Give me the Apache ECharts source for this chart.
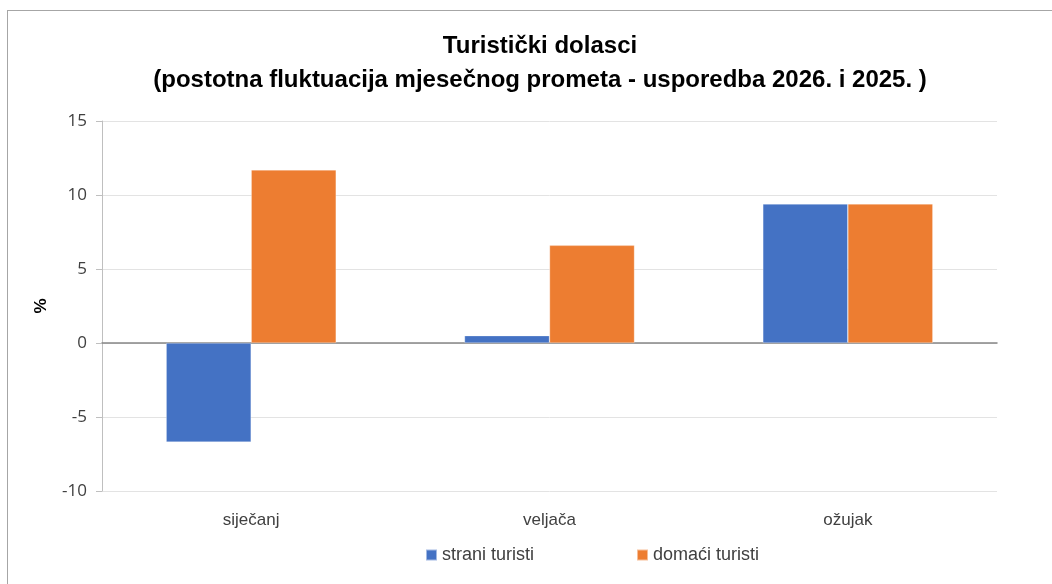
<!DOCTYPE html>
<html>
<head>
<meta charset="utf-8">
<script src="https://cdn.jsdelivr.net/npm/echarts@6/dist/echarts.min.js"></script>
<style>
  html, body { margin: 0; padding: 0; background: #fff; }
  #frame { position: absolute; left: 7px; top: 10px; width: 1100px; height: 640px;
           border-left: 1.5px solid #a6a6a6; border-top: 1.5px solid #a6a6a6; }
  #chart { position: absolute; left: 0; top: 0; width: 1052px; height: 584px; }
</style>
</head>
<body>
<div id="frame"></div>
<div id="chart"></div>
<script>
const titleLines = ['Turistički dolasci', '(postotna fluktuacija mjesečnog prometa - usporedba 2026. i 2025. )'];
const categories = ['siječanj', 'veljača', 'ožujak'];
const seriesNames = ['strani turisti', 'domaći turisti'];
const straniTuristi = [-6.7, 0.5, 9.4];
const domaciTuristi = [11.7, 6.6, 9.4];
const yMin = -10, yMax = 15, yInterval = 5;
const yAxisName = '%';

const calibri = '"Liberation Sans", sans-serif';
const chart = echarts.init(document.getElementById('chart'), null, { renderer: 'canvas' });
chart.setOption({
  animation: false,
  backgroundColor: 'transparent',
  title: {
    text: titleLines.join('\n'),
    left: 535, top: 24, textAlign: 'center',
    textStyle: { fontFamily: calibri, fontWeight: 'bold', fontSize: 24, color: '#000', lineHeight: 34 }
  },
  legend: {
    data: seriesNames,
    left: 420, top: 541,
    itemWidth: 11, itemHeight: 11, itemGap: 102, icon: 'rect',
    textStyle: { fontFamily: calibri, fontSize: 18, color: '#404040' }
  },
  grid: { left: 102, right: 55, top: 121, bottom: 93, containLabel: false },
  xAxis: {
    type: 'category', data: categories,
    axisLine: { onZero: true, lineStyle: { color: '#868686', width: 1.5 } },
    axisTick: { show: false },
    axisLabel: { fontFamily: calibri, fontSize: 17, color: '#404040', margin: 21 },
    splitLine: { show: false }
  },
  yAxis: {
    type: 'value', min: yMin, max: yMax, interval: yInterval,
    name: yAxisName, nameLocation: 'middle', nameRotate: 90, nameGap: 52,
    nameTextStyle: { fontFamily: '"Liberation Sans", sans-serif', fontWeight: 'bold', fontSize: 17, color: '#000' },
    axisLine: { show: true, lineStyle: { color: '#bfbfbf', width: 1 } },
    axisTick: { show: true, length: 6, lineStyle: { color: '#bfbfbf' } },
    axisLabel: { fontFamily: '"Open Sans", sans-serif', fontSize: 17, color: '#404040', margin: 15 },
    splitLine: { lineStyle: { color: '#e3e3e3', width: 1 } }
  },
  series: [
    {
      name: seriesNames[0], type: 'bar', data: straniTuristi,
      barGap: '0%', barCategoryGap: '43%',
      itemStyle: { color: '#4472C4', borderColor: 'rgba(255,255,255,0.5)', borderWidth: 0.6 }
    },
    {
      name: seriesNames[1], type: 'bar', data: domaciTuristi,
      barGap: '0%', barCategoryGap: '43%',
      itemStyle: { color: '#ED7D31', borderColor: 'rgba(255,255,255,0.5)', borderWidth: 0.6 }
    }
  ]
});
</script>
</body>
</html>
